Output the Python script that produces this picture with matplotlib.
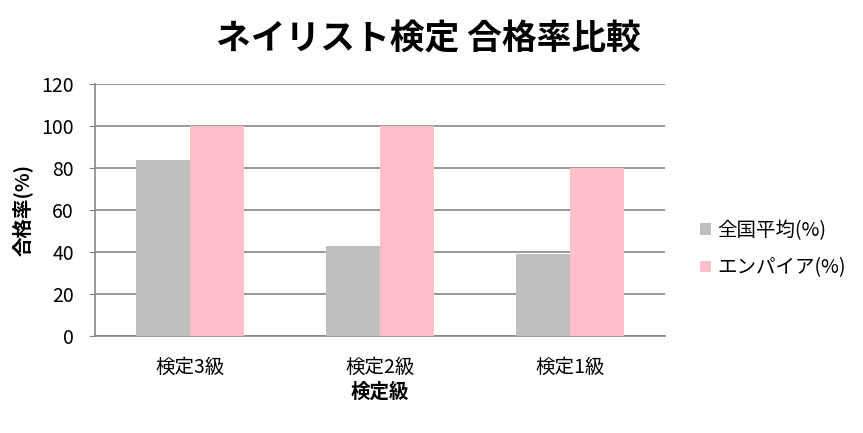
import numpy as np
import matplotlib
matplotlib.use("Agg")
import matplotlib.pyplot as plt

plt.rcParams['font.family'] = ['Noto Sans CJK JP', 'DejaVu Sans']

categories = ['検定3級', '検定2級', '検定1級']
national_avg = [84, 43, 39]
empire = [100, 100, 80]
series_names = ['全国平均(%)', 'エンパイア(%)']

fig = plt.figure(figsize=(8.63, 4.33), dpi=100)
ax = fig.add_axes([0.110, 0.224, 0.661, 0.582])

x = np.arange(len(categories))
w = 0.284
ax.bar(x - w / 2, national_avg, w, color='#BFBFBF', label=series_names[0], zorder=3)
ax.bar(x + w / 2, empire, w, color='#FFC0CB', label=series_names[1], zorder=3)

ax.set_xlim(-0.5, 2.5)
ax.set_ylim(0, 120)
ax.set_yticks(range(0, 121, 20))
ax.set_xticks(x)
ax.set_xticklabels(categories)
ax.grid(axis='y', color='#868686', linewidth=1.2, zorder=0)

for s in ['top', 'right']:
    ax.spines[s].set_visible(False)
for s in ['left', 'bottom']:
    ax.spines[s].set_color('#868686')
    ax.spines[s].set_linewidth(1.2)

ax.tick_params(axis='y', length=4, color='#868686', labelsize=14, pad=11)
ax.tick_params(axis='x', length=0, labelsize=14, pad=15)

ax.set_xlabel('検定級', fontsize=14, fontweight='bold', labelpad=3)
ax.set_ylabel('合格率(%)', fontsize=14, fontweight='bold', labelpad=6)

fig.text(0.497, 0.91, 'ネイリスト検定 合格率比較', ha='center', va='center',
         fontsize=25, fontweight='bold')

ax.legend(loc='center left', bbox_to_anchor=(1.03, 0.345), frameon=False,
          fontsize=14, handlelength=0.55, handleheight=0.55, handletextpad=0.35,
          labelspacing=0.85)

fig.savefig('out.png', dpi=100)
